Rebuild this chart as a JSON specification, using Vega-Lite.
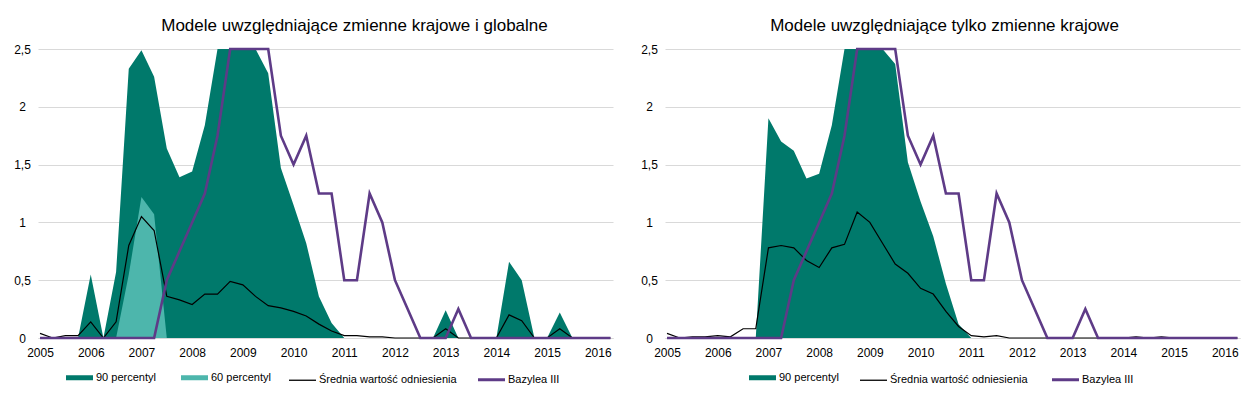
{
  "$schema": "https://vega.github.io/schema/vega-lite/v6.json",
  "autosize": {"type": "pad"},
  "padding": {"left": 13, "top": 17, "right": 10, "bottom": 5},
  "background": "white",
  "config": {
    "font": "Liberation Sans",
    "view": {"stroke": null},
    "title": {"fontSize": 17, "fontWeight": "normal", "color": "#000000", "font": "Liberation Sans"},
    "axis": {"labelFont": "Liberation Sans", "labelFontSize": 12, "labelColor": "#000000", "title": null}
  },
  "data": {"values": [
    {"t": 2005, "L90": 0, "L60": 0, "Lsr": 0.04, "B": 0, "R90": 0, "Rsr": 0.04},
    {"t": 2005.25, "L90": 0, "L60": 0, "Lsr": 0, "B": 0, "R90": 0, "Rsr": 0},
    {"t": 2005.5, "L90": 0, "L60": 0, "Lsr": 0.02, "B": 0, "R90": 0, "Rsr": 0.01},
    {"t": 2005.75, "L90": 0, "L60": 0, "Lsr": 0.02, "B": 0, "R90": 0, "Rsr": 0.01},
    {"t": 2006, "L90": 0.55, "L60": 0, "Lsr": 0.14, "B": 0, "R90": 0, "Rsr": 0.02},
    {"t": 2006.25, "L90": 0, "L60": 0, "Lsr": 0, "B": 0, "R90": 0, "Rsr": 0.01},
    {"t": 2006.5, "L90": 0.57, "L60": 0, "Lsr": 0.14, "B": 0, "R90": 0, "Rsr": 0.08},
    {"t": 2006.75, "L90": 2.33, "L60": 0.55, "Lsr": 0.8, "B": 0, "R90": 0, "Rsr": 0.08},
    {"t": 2007, "L90": 2.49, "L60": 1.22, "Lsr": 1.05, "B": 0, "R90": 1.9, "Rsr": 0.78},
    {"t": 2007.25, "L90": 2.26, "L60": 1.07, "Lsr": 0.93, "B": 0, "R90": 1.7, "Rsr": 0.8},
    {"t": 2007.5, "L90": 1.64, "L60": 0, "Lsr": 0.36, "B": 0.5, "R90": 1.62, "Rsr": 0.78},
    {"t": 2007.75, "L90": 1.39, "L60": 0, "Lsr": 0.33, "B": 0.75, "R90": 1.38, "Rsr": 0.67},
    {"t": 2008, "L90": 1.44, "L60": 0, "Lsr": 0.29, "B": 1.0, "R90": 1.42, "Rsr": 0.61},
    {"t": 2008.25, "L90": 1.84, "L60": 0, "Lsr": 0.38, "B": 1.25, "R90": 1.84, "Rsr": 0.78},
    {"t": 2008.5, "L90": 2.5, "L60": 0, "Lsr": 0.38, "B": 1.75, "R90": 2.5, "Rsr": 0.81},
    {"t": 2008.75, "L90": 2.5, "L60": 0, "Lsr": 0.49, "B": 2.5, "R90": 2.5, "Rsr": 1.09},
    {"t": 2009, "L90": 2.5, "L60": 0, "Lsr": 0.46, "B": 2.5, "R90": 2.5, "Rsr": 1.0},
    {"t": 2009.25, "L90": 2.5, "L60": 0, "Lsr": 0.36, "B": 2.5, "R90": 2.5, "Rsr": 0.82},
    {"t": 2009.5, "L90": 2.29, "L60": 0, "Lsr": 0.28, "B": 2.5, "R90": 2.37, "Rsr": 0.64},
    {"t": 2009.75, "L90": 1.47, "L60": 0, "Lsr": 0.26, "B": 1.75, "R90": 1.52, "Rsr": 0.56},
    {"t": 2010, "L90": 1.15, "L60": 0, "Lsr": 0.23, "B": 1.5, "R90": 1.18, "Rsr": 0.43},
    {"t": 2010.25, "L90": 0.82, "L60": 0, "Lsr": 0.19, "B": 1.75, "R90": 0.88, "Rsr": 0.38},
    {"t": 2010.5, "L90": 0.36, "L60": 0, "Lsr": 0.12, "B": 1.25, "R90": 0.47, "Rsr": 0.23},
    {"t": 2010.75, "L90": 0.13, "L60": 0, "Lsr": 0.06, "B": 1.25, "R90": 0.12, "Rsr": 0.1},
    {"t": 2011, "L90": 0, "L60": 0, "Lsr": 0.02, "B": 0.5, "R90": 0, "Rsr": 0.02},
    {"t": 2011.25, "L90": 0, "L60": 0, "Lsr": 0.02, "B": 0.5, "R90": 0, "Rsr": 0.01},
    {"t": 2011.5, "L90": 0, "L60": 0, "Lsr": 0.01, "B": 1.25, "R90": 0, "Rsr": 0.02},
    {"t": 2011.75, "L90": 0, "L60": 0, "Lsr": 0.01, "B": 1.0, "R90": 0, "Rsr": 0},
    {"t": 2012, "L90": 0, "L60": 0, "Lsr": 0, "B": 0.5, "R90": 0, "Rsr": 0},
    {"t": 2012.25, "L90": 0, "L60": 0, "Lsr": 0, "B": 0.25, "R90": 0, "Rsr": 0},
    {"t": 2012.5, "L90": 0, "L60": 0, "Lsr": 0, "B": 0, "R90": 0, "Rsr": 0},
    {"t": 2012.75, "L90": 0, "L60": 0, "Lsr": 0, "B": 0, "R90": 0, "Rsr": 0},
    {"t": 2013, "L90": 0.24, "L60": 0, "Lsr": 0.08, "B": 0, "R90": 0, "Rsr": 0},
    {"t": 2013.25, "L90": 0, "L60": 0, "Lsr": 0, "B": 0.25, "R90": 0, "Rsr": 0},
    {"t": 2013.5, "L90": 0, "L60": 0, "Lsr": 0, "B": 0, "R90": 0, "Rsr": 0},
    {"t": 2013.75, "L90": 0, "L60": 0, "Lsr": 0, "B": 0, "R90": 0, "Rsr": 0},
    {"t": 2014, "L90": 0, "L60": 0, "Lsr": 0, "B": 0, "R90": 0, "Rsr": 0},
    {"t": 2014.25, "L90": 0.66, "L60": 0, "Lsr": 0.2, "B": 0, "R90": 0, "Rsr": 0.01},
    {"t": 2014.5, "L90": 0.5, "L60": 0, "Lsr": 0.15, "B": 0, "R90": 0, "Rsr": 0},
    {"t": 2014.75, "L90": 0, "L60": 0, "Lsr": 0, "B": 0, "R90": 0, "Rsr": 0.01},
    {"t": 2015, "L90": 0, "L60": 0, "Lsr": 0, "B": 0, "R90": 0, "Rsr": 0},
    {"t": 2015.25, "L90": 0.22, "L60": 0, "Lsr": 0.08, "B": 0, "R90": 0, "Rsr": 0},
    {"t": 2015.5, "L90": 0, "L60": 0, "Lsr": 0, "B": 0, "R90": 0, "Rsr": 0},
    {"t": 2015.75, "L90": 0, "L60": 0, "Lsr": 0, "B": 0, "R90": 0, "Rsr": 0},
    {"t": 2016, "L90": 0, "L60": 0, "Lsr": 0, "B": 0, "R90": 0, "Rsr": 0},
    {"t": 2016.25, "L90": 0, "L60": 0, "Lsr": 0, "B": 0, "R90": 0, "Rsr": 0}
  ]},
  "spacing": 24,
  "resolve": {"scale": {"color": "independent"}, "legend": {"color": "independent"}},
  "hconcat": [
    {
      "title": {"text": "Modele uwzględniające zmienne krajowe i globalne", "dx": 29, "offset": 8},
      "width": 575,
      "height": 289,
      "encoding": {
        "x": {"field": "t", "type": "quantitative",
          "scale": {"domain": [2004.96, 2016.3], "nice": false, "zero": false},
          "axis": {"values": [2005, 2006, 2007, 2008, 2009, 2010, 2011, 2012, 2013, 2014, 2015, 2016], "format": "d", "grid": false, "ticks": false, "tickSize": 0, "labelPadding": 9, "domainColor": "#d9d9d9", "title": null}}
      },
      "layer": [
        {"mark": {"type": "area", "interpolate": "linear"},
         "encoding": {
           "y": {"field": "L90", "type": "quantitative", "title": null, "scale": {"domain": [0, 2.5], "nice": false},
             "axis": {"values": [0, 0.5, 1, 1.5, 2, 2.5], "labelExpr": "replace(format(datum.value, '~r'), '.', ',')", "grid": true, "gridColor": "#d9d9d9", "domain": false, "ticks": false, "tickSize": 0, "labelPadding": 16, "labelAlign": "center", "title": null}},
           "color": {"datum": "90 percentyl", "type": "nominal",
             "scale": {"domain": ["90 percentyl", "60 percentyl", "Średnia wartość odniesienia", "Bazylea III"], "range": ["#00796B", "#4DB6AC", "#000000", "#5E3B87"]},
             "legend": {"orient": "none", "legendX": 36, "legendY": 323, "direction": "horizontal", "title": null,
               "symbolType": "stroke", "symbolSize": 729, "labelFontSize": 11, "labelColor": "#000000", "labelOffset": 11, "columnPadding": 15,
               "encode": {"symbols": {"update": {
                 "stroke": {"signal": "datum.value === '90 percentyl' ? '#00796B' : datum.value === '60 percentyl' ? '#4DB6AC' : datum.value === 'Bazylea III' ? '#5E3B87' : '#000000'"},
                 "strokeWidth": {"signal": "datum.value === 'Bazylea III' ? 3 : datum.value === '90 percentyl' || datum.value === '60 percentyl' ? 5 : 1.3"},
                 "fill": {"value": "transparent"}}}}}}
         }},
        {"mark": {"type": "area", "interpolate": "linear"},
         "encoding": {"y": {"field": "L60", "type": "quantitative", "title": null,
             "axis": {"values": [0, 0.5, 1, 1.5, 2, 2.5], "labelExpr": "replace(format(datum.value, '~r'), '.', ',')", "grid": true, "gridColor": "#d9d9d9", "domain": false, "ticks": false, "tickSize": 0, "labelPadding": 16, "labelAlign": "center", "title": null}},
           "color": {"datum": "60 percentyl", "type": "nominal"}}},
        {"mark": {"type": "line", "strokeWidth": 1.2},
         "encoding": {"y": {"field": "Lsr", "type": "quantitative", "title": null,
             "axis": {"values": [0, 0.5, 1, 1.5, 2, 2.5], "labelExpr": "replace(format(datum.value, '~r'), '.', ',')", "grid": true, "gridColor": "#d9d9d9", "domain": false, "ticks": false, "tickSize": 0, "labelPadding": 16, "labelAlign": "center", "title": null}},
           "color": {"datum": "Średnia wartość odniesienia", "type": "nominal"}}},
        {"mark": {"type": "line", "strokeWidth": 2.6},
         "encoding": {"y": {"field": "B", "type": "quantitative", "title": null,
             "axis": {"values": [0, 0.5, 1, 1.5, 2, 2.5], "labelExpr": "replace(format(datum.value, '~r'), '.', ',')", "grid": true, "gridColor": "#d9d9d9", "domain": false, "ticks": false, "tickSize": 0, "labelPadding": 16, "labelAlign": "center", "title": null}},
           "color": {"datum": "Bazylea III", "type": "nominal"}}}
      ]
    },
    {
      "title": {"text": "Modele uwzględniające tylko zmienne krajowe", "dx": -8, "offset": 8},
      "width": 575,
      "height": 289,
      "encoding": {
        "x": {"field": "t", "type": "quantitative",
          "scale": {"domain": [2004.96, 2016.3], "nice": false, "zero": false},
          "axis": {"values": [2005, 2006, 2007, 2008, 2009, 2010, 2011, 2012, 2013, 2014, 2015, 2016], "format": "d", "grid": false, "ticks": false, "tickSize": 0, "labelPadding": 9, "domainColor": "#d9d9d9", "title": null}}
      },
      "layer": [
        {"mark": {"type": "area", "interpolate": "linear"},
         "encoding": {
           "y": {"field": "R90", "type": "quantitative", "title": null, "scale": {"domain": [0, 2.5], "nice": false},
             "axis": {"values": [0, 0.5, 1, 1.5, 2, 2.5], "labelExpr": "replace(format(datum.value, '~r'), '.', ',')", "grid": true, "gridColor": "#d9d9d9", "domain": false, "ticks": false, "tickSize": 0, "labelPadding": 16, "labelAlign": "center", "title": null}},
           "color": {"datum": "90 percentyl", "type": "nominal",
             "scale": {"domain": ["90 percentyl", "Średnia wartość odniesienia", "Bazylea III"], "range": ["#00796B", "#000000", "#5E3B87"]},
             "legend": {"orient": "none", "legendX": 92, "legendY": 323, "direction": "horizontal", "title": null,
               "symbolType": "stroke", "symbolSize": 729, "labelFontSize": 11, "labelColor": "#000000", "labelOffset": 11, "columnPadding": 18,
               "encode": {"symbols": {"update": {
                 "stroke": {"signal": "datum.value === '90 percentyl' ? '#00796B' : datum.value === 'Bazylea III' ? '#5E3B87' : '#000000'"},
                 "strokeWidth": {"signal": "datum.value === 'Bazylea III' ? 3 : datum.value === '90 percentyl' ? 5 : 1.3"},
                 "fill": {"value": "transparent"}}}}}}
         }},
        {"mark": {"type": "line", "strokeWidth": 1.2},
         "encoding": {"y": {"field": "Rsr", "type": "quantitative", "title": null,
             "axis": {"values": [0, 0.5, 1, 1.5, 2, 2.5], "labelExpr": "replace(format(datum.value, '~r'), '.', ',')", "grid": true, "gridColor": "#d9d9d9", "domain": false, "ticks": false, "tickSize": 0, "labelPadding": 16, "labelAlign": "center", "title": null}},
           "color": {"datum": "Średnia wartość odniesienia", "type": "nominal"}}},
        {"mark": {"type": "line", "strokeWidth": 2.6},
         "encoding": {"y": {"field": "B", "type": "quantitative", "title": null,
             "axis": {"values": [0, 0.5, 1, 1.5, 2, 2.5], "labelExpr": "replace(format(datum.value, '~r'), '.', ',')", "grid": true, "gridColor": "#d9d9d9", "domain": false, "ticks": false, "tickSize": 0, "labelPadding": 16, "labelAlign": "center", "title": null}},
           "color": {"datum": "Bazylea III", "type": "nominal"}}}
      ]
    }
  ]
}
